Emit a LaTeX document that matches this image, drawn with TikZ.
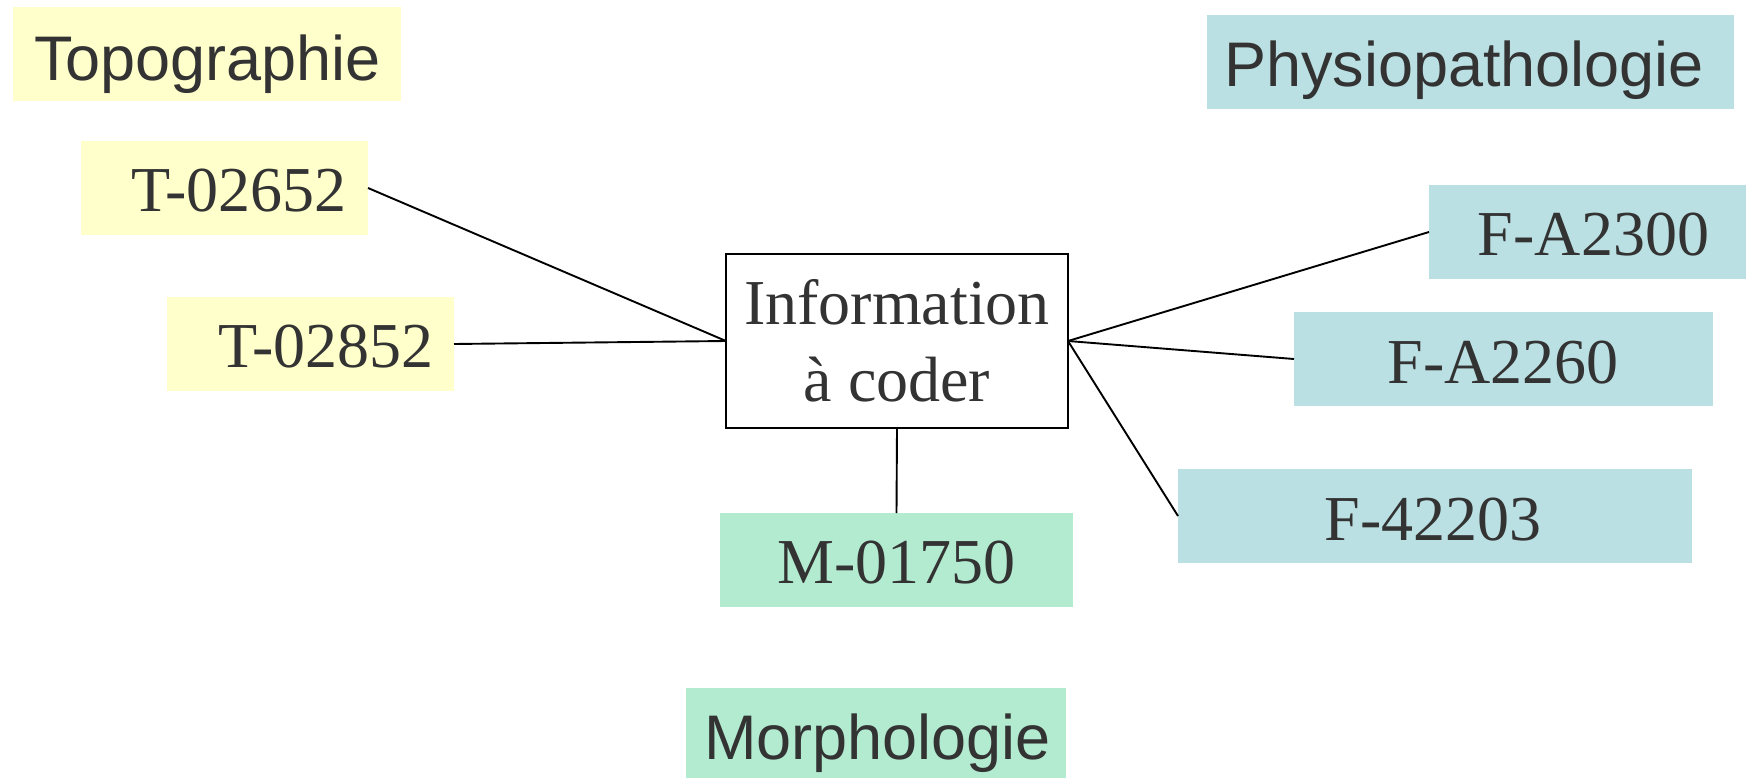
\documentclass[tikz,border=0pt]{standalone}
\usepackage{fontspec}
\setmainfont{Liberation Serif}
\newfontfamily\labelsans{Liberation Sans}
\definecolor{ink}{HTML}{333333}
\definecolor{topoyellow}{HTML}{FFFFCC}
\definecolor{physioblue}{HTML}{BBE0E3}
\definecolor{morphgreen}{HTML}{B3EBD0}
\begin{document}
\begin{tikzpicture}[x=1pt,y=-1pt,
  boxshape/.style={inner sep=0pt, outer sep=0pt, draw=none},
  topobox/.style={boxshape, fill=topoyellow},
  physiobox/.style={boxshape, fill=physioblue},
  morphbox/.style={boxshape, fill=morphgreen},
  codetext/.style={inner sep=0pt, anchor=base, text=ink, font=\fontsize{64}{77}\selectfont},
  labeltext/.style={inner sep=0pt, anchor=base, text=ink, font=\labelsans\fontsize{63}{75}\selectfont},
  link/.style={draw=black, line width=1.9pt}]
\useasboundingbox (0,0) rectangle (1746,778);
% boxes
\node[topobox, minimum width=388pt, minimum height=94pt] (topo) at (207,54) {};
\node[topobox, minimum width=287pt, minimum height=94pt] (t1) at (224.5,188) {};
\node[topobox, minimum width=287pt, minimum height=94pt] (t2) at (310.5,344) {};
\node[physiobox, minimum width=527pt, minimum height=94pt] (physio) at (1470.5,62) {};
\node[physiobox, minimum width=317pt, minimum height=94pt] (f1) at (1587.5,232) {};
\node[physiobox, minimum width=419pt, minimum height=94pt] (f2) at (1503.5,359) {};
\node[physiobox, minimum width=514pt, minimum height=94pt] (f3) at (1435,516) {};
\node[morphbox, minimum width=353pt, minimum height=94pt] (m1) at (896.5,560) {};
\node[morphbox, minimum width=380pt, minimum height=90pt] (morph) at (876,733) {};
\node[draw=black, fill=white, line width=1.7pt, inner sep=0pt, outer sep=0pt,
  minimum width=342pt, minimum height=174pt, align=center, text=ink,
  font=\fontsize{64}{77}\selectfont] (info) at (897,341) {Information\\à coder};
% texts
\node[labeltext] (topotext) at (207.5,81) {Topographie};
\node[codetext] (t1text) at (239,212) {T-02652};
\node[codetext] (t2text) at (326,367) {T-02852};
\node[labeltext] (physiotext) at (1464,87) {Physiopathologie};
\node[codetext] (f1text) at (1593.5,256) {F-A2300};
\node[codetext] (f2text) at (1503,383) {F-A2260};
\node[codetext] (f3text) at (1433,540) {F-42203};
\node[codetext] (m1text) at (896.5,583) {M-01750};
\node[labeltext] (morphtext) at (877.5,759) {Morphologie};
% connectors
\draw[link] (t1.east) -- (info.west);
\draw[link] (t2.east) -- (info.west);
\draw[link] (info.east) -- (f1.west);
\draw[link] (info.east) -- (f2.west);
\draw[link] (info.east) -- (f3.west);
\draw[link] (info.south) -- (m1.north);
\end{tikzpicture}
\end{document}
